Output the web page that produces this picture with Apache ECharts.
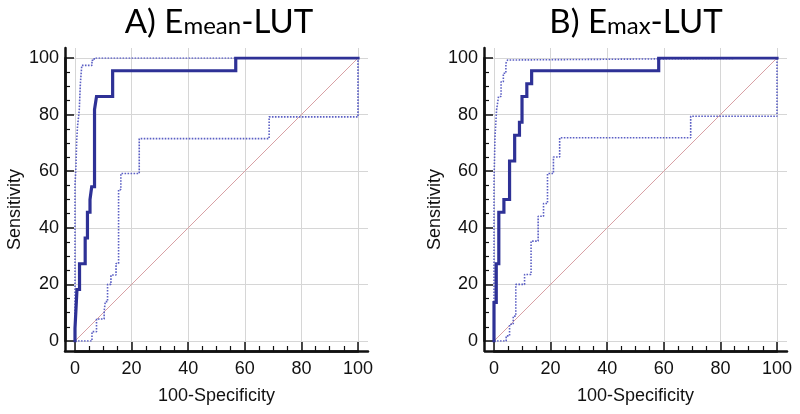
<!DOCTYPE html>
<html><head><meta charset="utf-8">
<script src="https://cdn.jsdelivr.net/npm/echarts@6/dist/echarts.min.js"></script>
<style>html,body{margin:0;padding:0;background:#fff}#c{width:800px;height:414px}</style>
</head><body><div id="c"></div>
<script>
// ---- data (100-Specificity, Sensitivity) ----
const aDiagonal = [[0,0],[100,100]];
const bDiagonal = [[0,0],[100,100]];
const aMain = [[0,0],[0,4.5],[0.7,4.5],[0.7,18.2],[1.6,18.2],[1.6,27.3],[3.6,27.3],[3.6,36.4],[4.4,36.4],[4.4,45.5],[5.3,45.5],[5.3,50],[5.9,50],[5.9,54.5],[6.9,54.5],[6.9,81.8],[7.6,81.8],[7.6,86.4],[13.3,86.4],[13.3,95.5],[56.8,95.5],[56.8,100],[100,100]];
const aUpper = [[0,0],[0,55],[0.35,55],[0.35,62],[0.6,62],[0.6,71],[0.9,71],[0.9,76],[1.5,76],[1.5,81.5],[1.9,81.5],[1.9,91],[2.4,91],[2.4,97.4],[6.0,97.4],[6.0,99.2],[6.8,99.2],[6.8,100],[100,100]];
const aLower = [[0,0],[6.0,0],[6.0,3.3],[7.6,3.3],[7.6,7.8],[10.3,7.8],[10.3,10.5],[10.7,10.5],[10.7,13.9],[11.5,13.9],[11.5,20],[12.7,20],[12.7,23.3],[14.5,23.3],[14.5,27.4],[15.4,27.4],[15.4,53.5],[16.2,53.5],[16.2,59.2],[22.7,59.2],[22.7,71.5],[68.6,71.5],[68.6,79.2],[100,79.2],[100,100]];
const bMain = [[0,0],[0,13.6],[0.8,13.6],[0.8,27.3],[1.7,27.3],[1.7,45.5],[3.5,45.5],[3.5,50],[5.5,50],[5.5,63.6],[7.3,63.6],[7.3,72.7],[9.0,72.7],[9.0,77.3],[9.9,77.3],[9.9,86.4],[11.6,86.4],[11.6,90.9],[13.3,90.9],[13.3,95.5],[58.2,95.5],[58.2,100],[100,100]];
const bUpper = [[0,0],[0,56],[0.35,56],[0.35,72],[0.9,72],[0.9,81.6],[1.6,81.6],[1.6,86.4],[2.5,86.4],[2.5,91.6],[3.3,91.6],[3.3,94.6],[4.2,94.6],[4.2,98.1],[4.8,98.1],[4.8,99.3],[6.4,99.3],[6.4,100],[100,100]];
const bLower = [[0,0],[4.3,0],[4.3,1.8],[5.5,1.8],[5.5,5.9],[6.8,5.9],[6.8,8.8],[7.7,8.8],[7.7,20],[10.8,20],[10.8,23.5],[13.1,23.5],[13.1,35.3],[15.6,35.3],[15.6,44.1],[17.5,44.1],[17.5,48.6],[18.9,48.6],[18.9,59.2],[21.0,59.2],[21.0,65],[23.2,65],[23.2,71.8],[69.5,71.8],[69.5,79.4],[100,79.4],[100,100]];
const titlesMain = ['A) E', 'B) E'];
const titlesSub = ['mean', 'max'];
const titlesEnd = ['-LUT', '-LUT'];
const xName = '100-Specificity';
const yName = 'Sensitivity';

// ---- layout ----
const panels = [
  {x0: 75, w: 283, axisX: 65, titleX: 219, diag: aDiagonal, main: aMain, upper: aUpper, lower: aLower},
  {x0: 494, w: 283, axisX: 485, titleX: 636, diag: bDiagonal, main: bMain, upper: bUpper, lower: bLower}
];
const TOP = 58, H = 283, OFF = 10, EXT = 10;
const FONT = '"Liberation Sans", Arial, sans-serif';
const TFONT = 'Lato, "Open Sans", sans-serif';
const AXC = '#111';

const hidden = () => ({show:false, axisLine:{show:false}, axisTick:{show:false}, axisLabel:{show:false}, splitLine:{show:false}});
const split = () => ({show:true, lineStyle:{color:'#d6d6d6', width:1}});

// placeholder grid 0 (tiny, invisible)
const grid = [{left: 798, top: 412, width: 1, height: 1}];
const xAxis = [Object.assign(hidden(), {gridIndex:0, type:'value', min:0, max:1})];
const yAxis = [Object.assign(hidden(), {gridIndex:0, type:'value', min:0, max:1})];
const series = [], graphic = [];

panels.forEach((p, i) => {
  const g = grid.length;
  grid.push({left: p.x0, top: TOP, width: p.w, height: H});
  grid.push({left: p.axisX, top: TOP, width: p.x0 + p.w + EXT - p.axisX, height: H});
  grid.push({left: p.x0, top: TOP - OFF, width: p.w, height: H + 2*OFF});

  const tickCommon = () => ({
    axisLine:{show:true, onZero:false, lineStyle:{color:AXC, width:2.5}},
    axisTick:{show:true, inside:true, length:9, lineStyle:{color:AXC, width:1.5}},
    minorTick:{show:true, splitNumber:4, length:5, lineStyle:{color:AXC, width:1.2}},
    splitLine:{show:false}
  });
  xAxis.push(Object.assign({gridIndex:g, type:'value', min:0, max:100, interval:20, offset:OFF,
    axisLabel:{fontSize:18, color:AXC, fontFamily:FONT, margin:9}}, tickCommon()));
  yAxis.push(Object.assign({gridIndex:g, type:'value', min:0, max:100, interval:20, offset:OFF,
    axisLabel:{fontSize:18, color:AXC, fontFamily:FONT, margin:6}}, tickCommon()));

  xAxis.push(Object.assign(hidden(), {show:true, gridIndex:g+1, type:'value', min:0, max:100, offset:OFF,
    axisLine:{show:true, onZero:false, lineStyle:{color:AXC, width:2.5}}}));
  yAxis.push(Object.assign(hidden(), {show:true, gridIndex:g+1, type:'value', min:0, max:100, interval:20, splitLine:split()}));
  xAxis.push(Object.assign(hidden(), {show:true, gridIndex:g+2, type:'value', min:0, max:100, interval:20, splitLine:split()}));
  yAxis.push(Object.assign(hidden(), {show:true, gridIndex:g+2, type:'value', min:0, max:100, offset:OFF,
    axisLine:{show:true, onZero:false, lineStyle:{color:AXC, width:2.5}}}));

  const base = {type:'line', xAxisIndex:g, yAxisIndex:g, showSymbol:false, symbol:'none', animation:false};
  const ci = '#5b5fc4';
  series.push(Object.assign({}, base, {data:p.main, z:5, lineStyle:{color:'#2e3196', width:3.2, cap:'square', join:'miter'}}));
  series.push(Object.assign({}, base, {data:p.upper, z:4, lineStyle:{color:ci, width:1.6, type:[1.6,1.4]}}));
  series.push(Object.assign({}, base, {data:p.lower, z:4, lineStyle:{color:ci, width:1.6, type:[1.6,1.4]}}));
  series.push(Object.assign({}, base, {data:p.diag, z:3, lineStyle:{color:'#d8a0a4', width:1}}));

  // titles and axis names
  graphic.push({type:'text', x:p.titleX, y:3, silent:true, style:{
    text:'{a|' + titlesMain[i] + '}{b|' + titlesSub[i] + '}{a|' + titlesEnd[i] + '}',
    align:'center', textAlign:'center', verticalAlign:'top', textVerticalAlign:'top',
    rich:{
      a:{fontSize:33, fontFamily:TFONT, fontWeight:'normal', fill:'#000', color:'#000', verticalAlign:'bottom', lineHeight:36},
      b:{fontSize:24, fontFamily:TFONT, fontWeight:'normal', fill:'#000', color:'#000', verticalAlign:'bottom', lineHeight:36, padding:[0,0,1,0]}
    }}});
  graphic.push({type:'text', x:p.x0 + p.w/2, y:396, silent:true, style:{
    text:xName, font:'18px ' + FONT, fill:AXC, align:'center', textAlign:'center', verticalAlign:'middle', textVerticalAlign:'middle'}});
  graphic.push({type:'text', x:p.axisX - 50, y:TOP + H/2 + 10, rotation:Math.PI/2, silent:true, style:{
    text:yName, font:'18px ' + FONT, fill:AXC, align:'center', textAlign:'center', verticalAlign:'middle', textVerticalAlign:'middle'}});
});

const chart = echarts.init(document.getElementById('c'));
chart.setOption({animation:false, grid, xAxis, yAxis, series, graphic});
</script>
</body></html>
